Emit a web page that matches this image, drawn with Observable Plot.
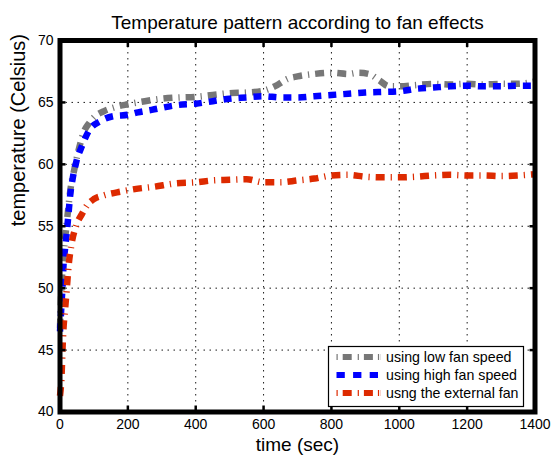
<!DOCTYPE html>
<html>
<head>
<meta charset="utf-8">
<script src="https://cdn.jsdelivr.net/npm/d3@7"></script>
<script src="https://cdn.jsdelivr.net/npm/@observablehq/plot@0.6"></script>
<style>
  html, body { margin: 0; padding: 0; background: #fff; }
  #chart { position: relative; width: 551px; height: 456px; font-family: "Liberation Sans", Arial, sans-serif; }
  #legend { position: absolute; left: 328px; top: 346px; }
</style>
</head>
<body>
<div id="chart"><div id="legend"></div></div>
<script>
// Temperature readings (seconds, °C) for each cooling setup
const lowFan = [
  [0,46.8],[5,50.5],[10,52.5],[15,54.0],[20,55.3],[25,56.6],[30,57.8],[35,58.7],[40,59.3],
  [50,60.6],[60,61.7],[70,62.6],[85,63.3],[100,63.8],[130,64.3],[160,64.6],[200,64.85],
  [250,65.1],[300,65.3],[350,65.4],[400,65.45],[450,65.6],[500,65.75],[550,65.8],[600,65.95],
  [640,66.4],[670,66.9],[700,67.1],[750,67.3],[800,67.4],[850,67.3],[880,67.4],[910,67.3],
  [940,66.8],[970,66.3],[1000,66.3],[1050,66.4],[1100,66.5],[1150,66.45],[1200,66.5],
  [1250,66.45],[1300,66.5],[1350,66.5],[1400,66.7]
];
const highFan = [
  [0,46.5],[5,49.0],[8,50.4],[10,51.7],[15,53.2],[20,54.5],[25,56.0],[30,57.5],[37,58.8],
  [48,60.2],[65,61.5],[85,62.7],[120,63.5],[160,63.9],[200,64.0],[230,64.2],[270,64.4],
  [350,64.8],[400,64.9],[450,65.1],[500,65.3],[550,65.4],[600,65.5],[650,65.4],[700,65.4],
  [750,65.5],[800,65.6],[850,65.7],[900,65.8],[950,65.85],[1000,65.9],[1050,66.1],
  [1100,66.2],[1150,66.3],[1200,66.35],[1250,66.3],[1300,66.3],[1350,66.35],[1400,66.35]
];
const externalFan = [
  [0,41.3],[5,43.2],[7,44.8],[10,46.6],[15,48.3],[20,49.95],[25,51.7],[33,53.4],[48,55.06],
  [65,56.0],[80,56.7],[100,57.2],[130,57.5],[180,57.8],[220,58.0],[280,58.2],[336,58.45],
  [400,58.55],[450,58.7],[500,58.75],[550,58.8],[600,58.55],[650,58.55],[700,58.7],
  [750,58.85],[800,59.1],[850,59.15],[900,59.0],[950,58.95],[1000,58.95],[1050,59.0],
  [1100,59.1],[1150,59.15],[1200,59.1],[1250,59.1],[1300,59.05],[1350,59.1],[1400,59.2]
];

const xTicks = [0, 200, 400, 600, 800, 1000, 1200, 1400];
const yTicks = [40, 45, 50, 55, 60, 65, 70];

const titleText = "Temperature pattern according to fan effects";
const xLabel = "time (sec)";
const yLabel = "temperature (Celsius)";

const series = [
  {name: "using low fan speed",   data: lowFan,      color: "#777777", dash: "9,6,1.2,6"},
  {name: "using high fan speed",  data: highFan,     color: "#0000ff", dash: "8,7"},
  {name: "usng the external fan", data: externalFan, color: "#dd2a00", dash: "9,6,1.2,6"}
];

const font = "'Liberation Sans', Arial, Helvetica, sans-serif";
const tickFmt = () => "";

const chart = Plot.plot({
  width: 551,
  height: 456,
  marginTop: 40,
  marginBottom: 44.5,
  marginLeft: 59.5,
  marginRight: 16.5,
  style: {fontFamily: font, color: "#000", background: "#fff", overflow: "visible"},
  x: {domain: [0, 1400]},
  y: {domain: [40, 70]},
  marks: [
    Plot.gridX(xTicks, {stroke: "#000", strokeOpacity: 0.9, strokeWidth: 1, strokeDasharray: "1.5,4.5"}),
    Plot.gridY(yTicks, {stroke: "#000", strokeOpacity: 0.9, strokeWidth: 1, strokeDasharray: "1.5,4.5"}),
    ...series.map(s => Plot.line(s.data, {
      x: d => d[0], y: d => d[1],
      stroke: s.color, strokeWidth: 6.5, strokeDasharray: s.dash,
      strokeLinecap: "butt", strokeLinejoin: "round", curve: "monotone-x"
    })),
    Plot.frame({stroke: "#000", strokeWidth: 5}),
    // inward tick marks on all four sides
    Plot.axisX(xTicks, {anchor: "bottom", tickSize: -6, strokeWidth: 2.5, tickFormat: tickFmt, label: null}),
    Plot.axisX(xTicks, {anchor: "top", tickSize: -6, strokeWidth: 2.5, tickFormat: tickFmt, label: null}),
    Plot.axisY(yTicks, {anchor: "left", tickSize: -6, strokeWidth: 2.5, tickFormat: tickFmt, label: null}),
    Plot.axisY(yTicks, {anchor: "right", tickSize: -6, strokeWidth: 2.5, tickFormat: tickFmt, label: null}),
    // tick labels
    Plot.axisX(xTicks, {anchor: "bottom", tickSize: 0, tickPadding: 7, fontSize: 14, label: null, tickFormat: d => String(d)}),
    Plot.axisY(yTicks, {anchor: "left", tickSize: 0, tickPadding: 6.5, fontSize: 14, label: null, tickFormat: d => String(d)}),
    // title and axis titles
    Plot.text([titleText], {frameAnchor: "top", lineAnchor: "bottom", dy: -12, fontSize: 19, fill: "#000"}),
    Plot.text([xLabel], {frameAnchor: "bottom", lineAnchor: "bottom", dy: 38.5, fontSize: 19, fill: "#000"}),
    Plot.text([yLabel], {frameAnchor: "left", rotate: -90, dx: -41.5, fontSize: 20, fill: "#000"})
  ]
});
document.getElementById("chart").prepend(chart);

// legend box with line samples
const lg = d3.select("#legend").append("svg")
  .attr("width", 200).attr("height", 62)
  .style("font-family", font).style("display", "block").style("overflow", "visible");
lg.append("rect").attr("x", 0.5).attr("y", 0.5).attr("width", 195).attr("height", 60)
  .attr("fill", "#fff").attr("stroke", "#000").attr("stroke-width", 1.2);
const rows = lg.selectAll("g.row").data(series).join("g")
  .attr("transform", (d, i) => `translate(0,${11 + i * 18})`);
rows.append("line")
  .attr("x1", 8.5).attr("x2", 52.5).attr("y1", 0).attr("y2", 0)
  .attr("stroke", d => d.color).attr("stroke-width", 6)
  .attr("stroke-dasharray", (d, i) => i === 1 ? "8.3,8.3" : "1.2,5,9,6,1.2,5,9,5,1.2");
rows.append("text")
  .attr("x", 58).attr("y", 0).attr("dy", "0.36em")
  .attr("font-size", 14.2).attr("fill", "#000")
  .text(d => d.name);
</script>
</body>
</html>
